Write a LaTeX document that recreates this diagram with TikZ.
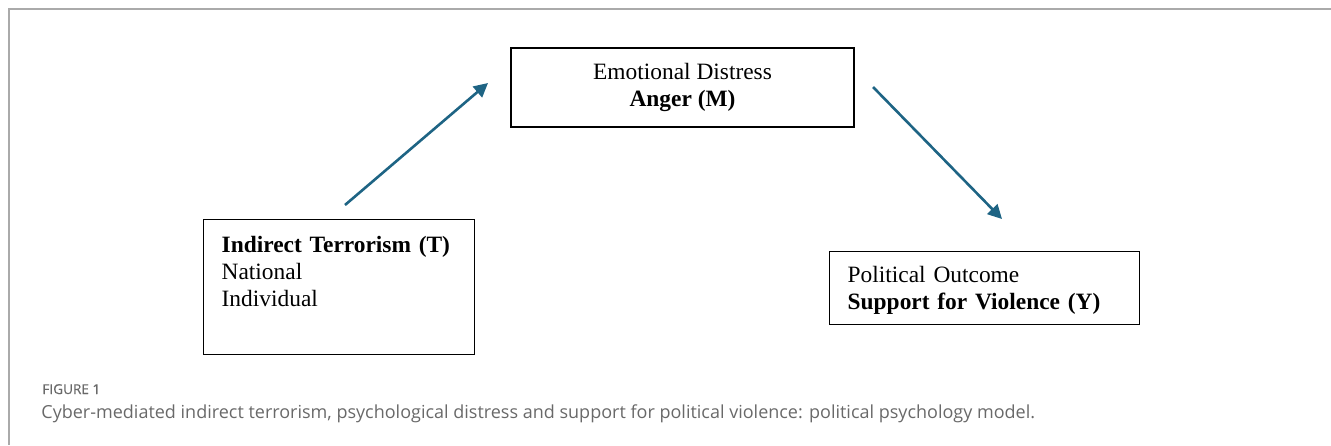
\documentclass[tikz,border=0pt]{standalone}
\usepackage{fontspec}
\setmainfont{Liberation Serif}
\newfontfamily\capfont{Open Sans}
\newfontfamily\figfont[FakeBold=0.6]{Open Sans}
\usetikzlibrary{arrows.meta}

\definecolor{pathblue}{RGB}{30,100,132}
\definecolor{framegray}{RGB}{170,170,170}
\definecolor{capgray}{RGB}{105,105,105}

\begin{document}
\begin{tikzpicture}[x=0.5pt, y=-0.5pt,
    varbox/.style={draw, line width=0.7pt, inner xsep=9pt, font=\fontsize{11.7}{13.5}\selectfont},
    path/.style={pathblue, line width=1.3pt, -{Triangle[length=7pt,width=7pt]}}]
    \useasboundingbox (0, 0) rectangle (1331, 445);
    \draw[framegray, line width=0.8pt] (1331, 9) -- (9, 9) -- (9, 445);

    \node[varbox, anchor=north west, align=left, text width=117.5pt, inner ysep=0pt,
          text height=16.5pt, text depth=51pt] (T) at (203, 219)
        {\textbf{Indirect Terrorism (T)}\\National\\Individual};
    \node[varbox, align=center, minimum width=171.5pt, minimum height=39.5pt] (M) at (682.5, 87.5)
        {Emotional Distress\\\textbf{Anger (M)}};
    \node[varbox, anchor=north west, align=left, text width=137pt, inner ysep=0pt,
          text height=15.5pt, text depth=21pt] (Y) at (829, 251)
        {Political Outcome\\\textbf{Support for Violence (Y)}};

    \coordinate (tOut) at (345, 205);
    \coordinate (mIn) at (488, 83);
    \coordinate (mOut) at (873, 87);
    \coordinate (yIn) at (1002, 219);
    \draw[path] (tOut) -- (mIn);
    \draw[path] (mOut) -- (yIn);

    \node[anchor=base west, inner sep=0pt, text=capgray, font=\figfont\fontsize{6.8}{8}\selectfont] (figlabel) at (42, 394)
        {FIGURE 1};
    \node[anchor=base west, inner sep=0pt, text=capgray, font=\capfont\fontsize{9}{11}\selectfont] (caption) at (41, 418)
        {Cyber-mediated indirect terrorism, psychological distress and support for political violence: political psychology model.};
\end{tikzpicture}
\end{document}
